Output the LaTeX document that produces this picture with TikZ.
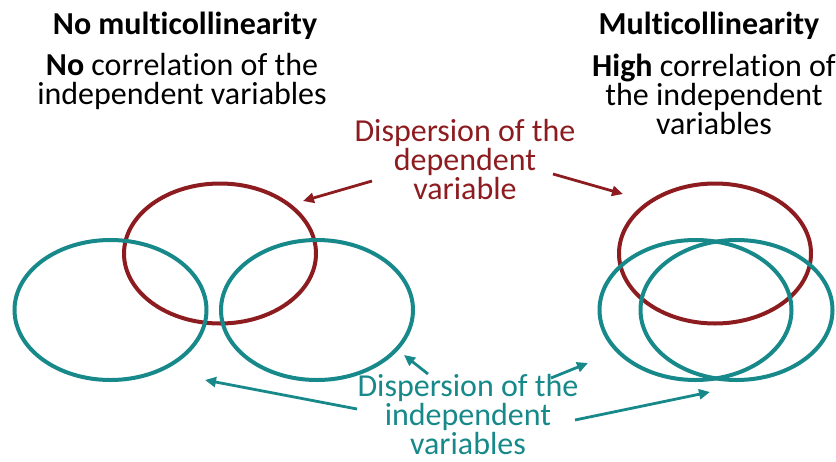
\documentclass[tikz,border=0pt]{standalone}
\usepackage{fontspec}
\setmainfont[Ligatures=NoCommon]{Carlito}
\usepackage{tikz}
\usetikzlibrary{arrows.meta,shapes.geometric}
\definecolor{DepRed}{HTML}{8C1C1F}
\definecolor{IndTeal}{HTML}{17898A}

\begin{document}
\begin{tikzpicture}[x=1pt,y=-1pt,
    ell/.style={ellipse,draw,line width=4pt,inner sep=0pt,minimum width=192pt,minimum height=140pt},
    dep/.style={ell,draw=DepRed},
    ind/.style={ell,draw=IndTeal},
    lbl/.style={align=center,inner sep=0pt,anchor=base,font=\fontsize{32}{29}\selectfont},
    a/.style={-{Triangle[length=11pt,width=10pt]},line width=2.8pt}]
    \useasboundingbox (0,0) rectangle (836,461);
    % left group: no multicollinearity
    \node[dep] (redL) at (220,253.5) {};
    \node[ind] (indLa) at (110.5,310) {};
    \node[ind] (indLb) at (317,310) {};
    % right group: multicollinearity
    \node[dep] (redR) at (715,253.5) {};
    \node[ind] (indRa) at (695.5,310) {};
    \node[ind] (indRb) at (736.5,310) {};
    % titles (base = last line)
    \node[lbl] (ttlL) at (185,34) {\textbf{No multicollinearity}};
    \node[lbl] (txtL) at (182,104) {\textbf{No} correlation of the\\independent variables};
    \node[lbl] (ttlR) at (709,34) {\textbf{Multicollinearity}};
    \node[lbl] (txtR) at (714,134) {\textbf{High} correlation of\\the independent\\variables};
    % labels
    \node[lbl,text=DepRed] (depTxt) at (465,199) {Dispersion of the\\dependent\\variable};
    \node[lbl,text=IndTeal] (indTxt) at (468,454) {Dispersion of the\\independent\\variables};
    % arrow ends
    \coordinate (dt1) at (372,181); \coordinate (dh1) at (303,201);
    \coordinate (dt2) at (553,174); \coordinate (dh2) at (623,194);
    \coordinate (it1) at (357,409); \coordinate (ih1) at (205,380);
    \coordinate (it2) at (428,374); \coordinate (ih2) at (404,355);
    \coordinate (it3) at (551,378); \coordinate (ih3) at (588,363);
    \coordinate (it4) at (575,420); \coordinate (ih4) at (710,392);
    \draw[a,draw=DepRed] (dt1)--(dh1); \draw[a,draw=DepRed] (dt2)--(dh2);
    \draw[a,draw=IndTeal] (it1)--(ih1); \draw[a,draw=IndTeal] (it2)--(ih2);
    \draw[a,draw=IndTeal] (it3)--(ih3); \draw[a,draw=IndTeal] (it4)--(ih4);
  \end{tikzpicture}
\end{document}
